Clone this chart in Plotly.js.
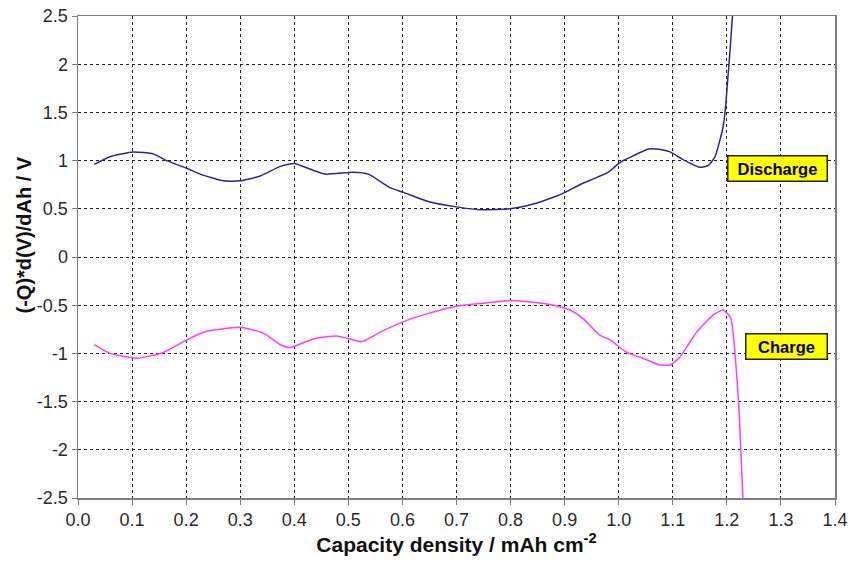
<!DOCTYPE html>
<html>
<head>
<meta charset="utf-8">
<script src="https://cdn.plot.ly/plotly-3.0.1.min.js"></script>
<style>html,body{margin:0;padding:0;background:#fff;}#chart{width:852px;height:564px;}</style>
</head>
<body>
<div id="chart"></div>
<script>
const dischargeX = [0.030,0.059,0.102,0.139,0.164,0.201,0.226,0.269,0.300,0.337,0.374,0.400,0.430,0.457,0.509,0.537,0.577,0.602,0.651,0.700,0.743,0.799,0.842,0.879,0.901,0.928,0.953,0.981,1.002,1.027,1.055,1.070,1.095,1.119,1.150,1.166,1.178,1.192,1.197,1.202,1.206,1.211];
const dischargeY = [0.96,1.04,1.09,1.07,1.00,0.92,0.86,0.79,0.79,0.84,0.94,0.97,0.91,0.86,0.88,0.86,0.72,0.67,0.57,0.52,0.49,0.50,0.55,0.62,0.67,0.75,0.81,0.88,0.98,1.05,1.12,1.12,1.09,1.01,0.93,0.95,1.04,1.32,1.52,1.87,2.15,2.55];
const chargeX = [0.030,0.059,0.109,0.158,0.201,0.232,0.263,0.300,0.343,0.374,0.392,0.435,0.478,0.503,0.525,0.559,0.602,0.645,0.700,0.750,0.799,0.842,0.879,0.910,0.934,0.965,0.984,1.015,1.045,1.076,1.095,1.113,1.144,1.175,1.193,1.207,1.221,1.230];
const chargeY = [-0.91,-1.00,-1.05,-0.99,-0.86,-0.78,-0.75,-0.73,-0.79,-0.91,-0.94,-0.85,-0.82,-0.85,-0.88,-0.78,-0.67,-0.59,-0.51,-0.48,-0.45,-0.47,-0.50,-0.55,-0.64,-0.81,-0.86,-0.99,-1.05,-1.12,-1.12,-1.04,-0.78,-0.60,-0.55,-0.63,-1.45,-2.55];
const xTicks = [0,0.1,0.2,0.3,0.4,0.5,0.6,0.7,0.8,0.9,1.0,1.1,1.2,1.3,1.4];
const xTickText = ["0.0","0.1","0.2","0.3","0.4","0.5","0.6","0.7","0.8","0.9","1.0","1.1","1.2","1.3","1.4"];
const yTicks = [2.5,2,1.5,1,0.5,0,-0.5,-1,-1.5,-2,-2.5];
const yTickText = ["2.5","2","1.5","1","0.5","0","-0.5","-1","-1.5","-2","-2.5"];
const labels = ["Discharge","Charge"];
const labelX = [1.294,1.311];
const labelY = [0.918,-0.93];

const FONT = 'Liberation Sans, Arial, sans-serif';

const traces = [
  {x: dischargeX, y: dischargeY, mode: 'lines', line: {color: '#27279a', width: 1.5, shape: 'spline', smoothing: 0.5}, showlegend: false},
  {x: chargeX, y: chargeY, mode: 'lines', line: {color: '#ff3cff', width: 1.5, shape: 'spline', smoothing: 0.5}, showlegend: false}
];

const axisCommon = {
  showline: true, linecolor: '#7f7f7f', linewidth: 1.5, mirror: true,
  showgrid: true, gridcolor: '#222', griddash: 'dot', gridwidth: 1,
  zeroline: false, ticks: 'outside', ticklen: 5, tickcolor: '#7f7f7f',
  tickfont: {family: FONT, size: 18, color: '#2a2a2a'}
};

const plotW = 852 - 78 - 17, plotH = 564 - 16 - 66;

const layout = {
  width: 852, height: 564,
  margin: {l: 78, r: 17, t: 16, b: 66},
  paper_bgcolor: '#fff', plot_bgcolor: '#fff',
  xaxis: Object.assign({}, axisCommon, {
    range: [0, 1.4], tickmode: 'array', tickvals: xTicks, ticktext: xTickText,
    title: {text: '<b>Capacity density / mAh cm<sup>-2</sup></b>', font: {family: FONT, size: 21, color: '#111'}, standoff: 6}
  }),
  yaxis: Object.assign({}, axisCommon, {
    range: [-2.5, 2.5], tickmode: 'array', tickvals: yTicks, ticktext: yTickText
  }),
  annotations: labels.map((t, i) => ({
    x: labelX[i], y: labelY[i], xref: 'x', yref: 'y', text: '<b>' + t + '</b>',
    showarrow: false, bgcolor: '#ffff00', bordercolor: '#222', borderwidth: 1.5, borderpad: 3,
    font: {family: FONT, size: 16.5, color: '#000'},
    width: i === 0 ? 92 : 74, height: 18
  })).concat([{
    xref: 'paper', yref: 'paper',
    x: (23.5 - 78) / plotW, y: 1 - (235 - 16) / plotH,
    xanchor: 'center', yanchor: 'middle',
    text: '<b>(-Q)*d(V)/dAh / V</b>', textangle: -90, showarrow: false,
    font: {family: FONT, size: 20, color: '#111'}
  }])
};

Plotly.newPlot('chart', traces, layout, {displayModeBar: false, staticPlot: true});
</script>
</body>
</html>
